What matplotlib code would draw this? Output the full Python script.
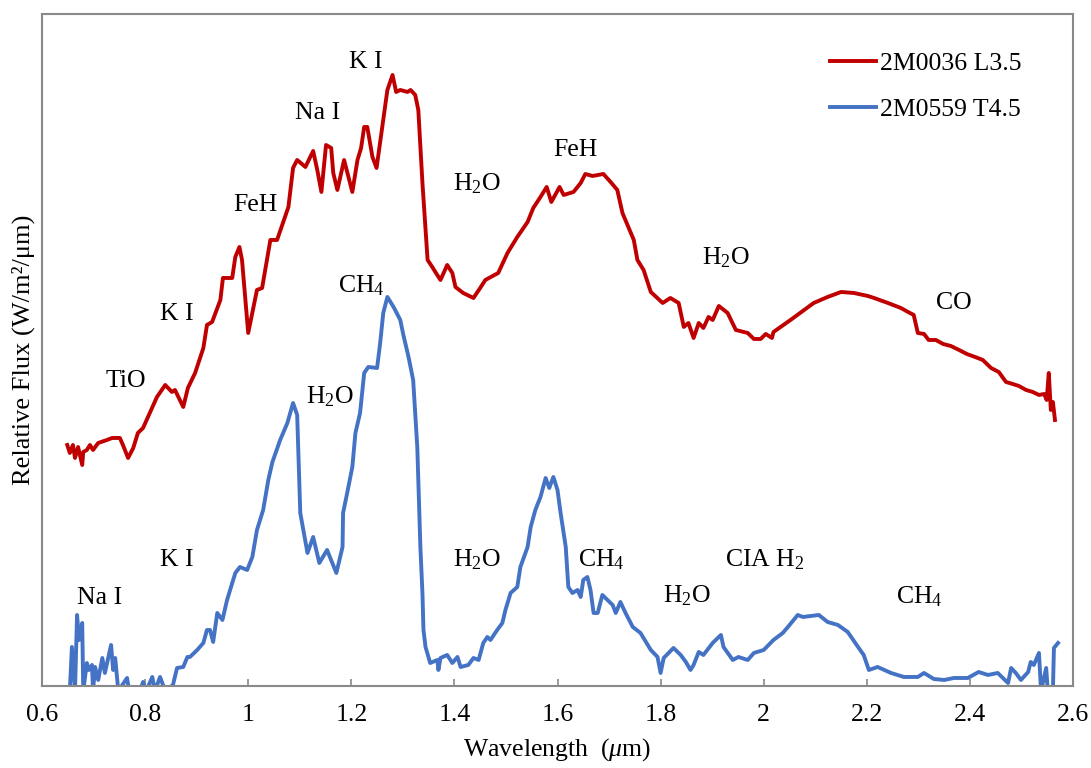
import numpy as np
import matplotlib
matplotlib.use("Agg")
import matplotlib.pyplot as plt

plt.rcParams['font.family'] = ['Liberation Serif', 'DejaVu Serif']
plt.rcParams['mathtext.fontset'] = 'custom'
plt.rcParams['mathtext.rm'] = 'Liberation Serif'
plt.rcParams['mathtext.it'] = 'Liberation Serif:italic'

# 2M0036 L3.5 spectrum (wavelength in um, relative flux)
wl_l = [0.649, 0.654, 0.660, 0.664, 0.670, 0.678, 0.680, 0.687, 0.693, 0.699,
        0.709, 0.726, 0.736, 0.751, 0.757, 0.767, 0.777, 0.786, 0.796, 0.810,
        0.823, 0.839, 0.852, 0.858, 0.874, 0.883, 0.897, 0.913, 0.920, 0.930,
        0.946, 0.951, 0.969, 0.975, 0.983, 0.988, 1.000, 1.017, 1.027, 1.043,
        1.056, 1.078, 1.087, 1.095, 1.111, 1.126, 1.134, 1.142, 1.151, 1.161,
        1.165, 1.173, 1.186, 1.202, 1.212, 1.219, 1.225, 1.231, 1.241, 1.249,
        1.260, 1.270, 1.280, 1.287, 1.295, 1.309, 1.315, 1.324, 1.330, 1.338,
        1.348, 1.357, 1.363, 1.373, 1.386, 1.396, 1.402, 1.417, 1.437, 1.450,
        1.460, 1.485, 1.503, 1.522, 1.542, 1.553, 1.567, 1.579, 1.588, 1.604,
        1.612, 1.631, 1.645, 1.654, 1.668, 1.689, 1.703, 1.716, 1.726, 1.748,
        1.755, 1.767, 1.781, 1.804, 1.819, 1.835, 1.845, 1.854, 1.864, 1.874,
        1.883, 1.893, 1.901, 1.913, 1.930, 1.946, 1.969, 1.981, 1.994, 2.004,
        2.016, 2.019, 2.052, 2.097, 2.124, 2.150, 2.175, 2.202, 2.214, 2.241,
        2.266, 2.280, 2.291, 2.299, 2.311, 2.320, 2.334, 2.348, 2.363, 2.379,
        2.394, 2.410, 2.425, 2.441, 2.456, 2.470, 2.483, 2.495, 2.509, 2.522,
        2.534, 2.544, 2.549, 2.553, 2.557, 2.561, 2.565]
flux_l = [2.41, 2.33, 2.41, 2.28, 2.39, 2.21, 2.34, 2.36, 2.41, 2.36,
          2.43, 2.46, 2.48, 2.48, 2.41, 2.28, 2.38, 2.53, 2.58, 2.74,
          2.89, 3.01, 2.94, 2.96, 2.79, 2.98, 3.13, 3.38, 3.61, 3.64,
          3.86, 4.08, 4.08, 4.29, 4.39, 4.26, 3.53, 3.96, 3.98, 4.46,
          4.46, 4.79, 5.18, 5.26, 5.19, 5.35, 5.16, 4.94, 5.41, 5.38,
          5.13, 4.96, 5.26, 4.94, 5.26, 5.38, 5.59, 5.59, 5.29, 5.18,
          5.59, 5.96, 6.11, 5.94, 5.96, 5.94, 5.96, 5.91, 5.76, 5.03,
          4.26, 4.19, 4.14, 4.06, 4.21, 4.13, 3.99, 3.93, 3.88, 3.98,
          4.06, 4.13, 4.33, 4.49, 4.64, 4.78, 4.89, 4.99, 4.84, 4.99,
          4.91, 4.94, 5.03, 5.12, 5.10, 5.12, 5.04, 4.96, 4.73, 4.46,
          4.26, 4.16, 3.94, 3.83, 3.88, 3.83, 3.59, 3.63, 3.48, 3.63,
          3.58, 3.69, 3.66, 3.80, 3.73, 3.56, 3.53, 3.47, 3.47, 3.52,
          3.48, 3.54, 3.66, 3.83, 3.89, 3.94, 3.93, 3.90, 3.88, 3.83,
          3.78, 3.74, 3.71, 3.53, 3.52, 3.46, 3.46, 3.42, 3.40, 3.36,
          3.32, 3.29, 3.26, 3.18, 3.14, 3.04, 3.02, 3.00, 2.96, 2.94,
          2.91, 2.92, 2.86, 3.13, 2.76, 2.84, 2.66]

# 2M0559 T4.5 spectrum
wl_t = [0.654, 0.658, 0.664, 0.668, 0.672, 0.678, 0.680, 0.687, 0.691, 0.697,
        0.699, 0.703, 0.709, 0.717, 0.722, 0.734, 0.738, 0.742, 0.748, 0.765,
        0.769, 0.790, 0.796, 0.802, 0.814, 0.819, 0.829, 0.839, 0.854, 0.862,
        0.874, 0.882, 0.887, 0.901, 0.913, 0.920, 0.926, 0.932, 0.940, 0.950,
        0.959, 0.975, 0.984, 0.998, 1.008, 1.017, 1.029, 1.039, 1.047, 1.062,
        1.076, 1.087, 1.095, 1.101, 1.115, 1.126, 1.138, 1.153, 1.171, 1.183,
        1.184, 1.192, 1.202, 1.208, 1.217, 1.225, 1.233, 1.250, 1.256, 1.262,
        1.270, 1.282, 1.295, 1.301, 1.311, 1.320, 1.328, 1.334, 1.338, 1.340,
        1.344, 1.353, 1.367, 1.369, 1.373, 1.386, 1.396, 1.406, 1.412, 1.427,
        1.437, 1.447, 1.456, 1.464, 1.470, 1.483, 1.493, 1.499, 1.509, 1.522,
        1.528, 1.542, 1.548, 1.557, 1.567, 1.577, 1.584, 1.592, 1.600, 1.606,
        1.616, 1.621, 1.629, 1.639, 1.645, 1.650, 1.658, 1.664, 1.670, 1.678,
        1.687, 1.697, 1.707, 1.713, 1.722, 1.732, 1.746, 1.761, 1.781, 1.794,
        1.800, 1.806, 1.825, 1.839, 1.849, 1.858, 1.864, 1.874, 1.883, 1.901,
        1.917, 1.922, 1.940, 1.951, 1.969, 1.981, 2.000, 2.019, 2.037, 2.047,
        2.066, 2.076, 2.091, 2.107, 2.124, 2.144, 2.163, 2.183, 2.194, 2.204,
        2.221, 2.247, 2.272, 2.299, 2.311, 2.330, 2.350, 2.369, 2.396, 2.417,
        2.435, 2.454, 2.474, 2.480, 2.489, 2.499, 2.513, 2.518, 2.524, 2.534,
        2.538, 2.548, 2.551, 2.561, 2.563, 2.571]
flux_t = [-0.05, 0.39, -0.05, 0.71, 0.46, 0.63, -0.05, 0.23, 0.16, 0.21,
          -0.05, 0.19, 0.06, 0.28, 0.13, 0.41, 0.16, 0.28, -0.05, 0.08,
          -0.05, -0.05, 0.04, -0.05, 0.09, -0.05, 0.09, -0.05, 0.01, 0.18,
          0.19, 0.29, 0.29, 0.36, 0.43, 0.56, 0.56, 0.44, 0.73, 0.66,
          0.86, 1.13, 1.19, 1.16, 1.29, 1.56, 1.76, 2.06, 2.24, 2.46,
          2.63, 2.83, 2.71, 1.73, 1.33, 1.49, 1.23, 1.36, 1.13, 1.39,
          1.73, 1.93, 2.19, 2.53, 2.73, 3.13, 3.19, 3.18, 3.43, 3.73,
          3.89, 3.79, 3.66, 3.51, 3.29, 3.06, 2.39, 1.39, 0.93, 0.56,
          0.39, 0.23, 0.26, 0.16, 0.28, 0.31, 0.23, 0.29, 0.19, 0.21,
          0.28, 0.26, 0.43, 0.49, 0.46, 0.56, 0.63, 0.76, 0.93, 0.99,
          1.19, 1.39, 1.59, 1.76, 1.89, 2.08, 1.98, 2.09, 1.96, 1.73,
          1.39, 0.99, 0.93, 0.96, 0.89, 1.06, 1.09, 0.96, 0.73, 0.73,
          0.91, 0.86, 0.81, 0.73, 0.84, 0.73, 0.59, 0.53, 0.36, 0.29,
          0.13, 0.28, 0.38, 0.31, 0.24, 0.16, 0.21, 0.34, 0.31, 0.43,
          0.51, 0.39, 0.26, 0.29, 0.26, 0.33, 0.36, 0.46, 0.53, 0.59,
          0.71, 0.69, 0.70, 0.71, 0.64, 0.61, 0.54, 0.39, 0.31, 0.16,
          0.19, 0.13, 0.09, 0.09, 0.13, 0.07, 0.06, 0.08, 0.08, 0.14,
          0.11, 0.13, 0.03, 0.18, 0.13, 0.06, 0.14, 0.24, 0.21, 0.33,
          -0.05, 0.18, -0.05, -0.05, 0.38, 0.43]

# feature labels: text, wavelength, flux (baseline)
labels_l = [("TiO", 0.724, 2.99), ("K I", 0.829, 3.66), ("FeH", 0.971, 4.75),
            ("Na I", 1.091, 5.67), ("K I", 1.196, 6.18),
            ("H$_2$O", 1.398, 4.96), ("FeH", 1.592, 5.30),
            ("H$_2$O", 1.880, 4.22), ("CO", 2.334, 3.77)]
labels_t = [("Na I", 0.668, 0.82), ("K I", 0.829, 1.20),
            ("CH$_4$", 1.175, 3.94), ("H$_2$O", 1.113, 2.83),
            ("H$_2$O", 1.398, 1.20), ("CH$_4$", 1.639, 1.20),
            ("H$_2$O", 1.804, 0.84), ("CIA H$_2$", 1.924, 1.20),
            ("CH$_4$", 2.256, 0.83)]

fig = plt.figure(figsize=(10.91, 7.68), dpi=100)
ax = fig.add_axes([0.0385, 0.1068, 0.945, 0.875])

ax.plot(wl_l, flux_l, color='#C00000', lw=2.8, label='2M0036 L3.5',
        solid_joinstyle='round')
ax.plot(wl_t, flux_t, color='#4472C4', lw=2.8, label='2M0559 T4.5',
        solid_joinstyle='round')

for txt, x, y in labels_l + labels_t:
    ax.text(x, y, txt, fontsize=18.5, ha='left', va='baseline')

ax.set_xlim(0.6, 2.6)
ax.set_ylim(0, 6.72)
ax.set_xticks(np.arange(0.6, 2.61, 0.2))
ax.set_xticklabels(['0.6', '0.8', '1', '1.2', '1.4', '1.6', '1.8', '2',
                    '2.2', '2.4', '2.6'])
ax.set_yticks([])
ax.tick_params(axis='x', direction='in', length=5, width=1.2,
               color='#898989', labelsize=18.5, pad=13)
for s in ax.spines.values():
    s.set_color('#898989')
    s.set_linewidth(1.5)

ax.set_xlabel(r'Wavelength  ($\mu$m)', fontsize=18.5, labelpad=7)
ax.set_ylabel('Relative Flux (W/m²/μm)', fontsize=19, labelpad=5)

ax.legend(loc='upper left', bbox_to_anchor=(0.764, 0.943), frameon=False,
          fontsize=18.5, handlelength=1.8, handletextpad=0.15,
          labelspacing=0.88, borderpad=0, borderaxespad=0)

fig.savefig('out.png', dpi=100)
